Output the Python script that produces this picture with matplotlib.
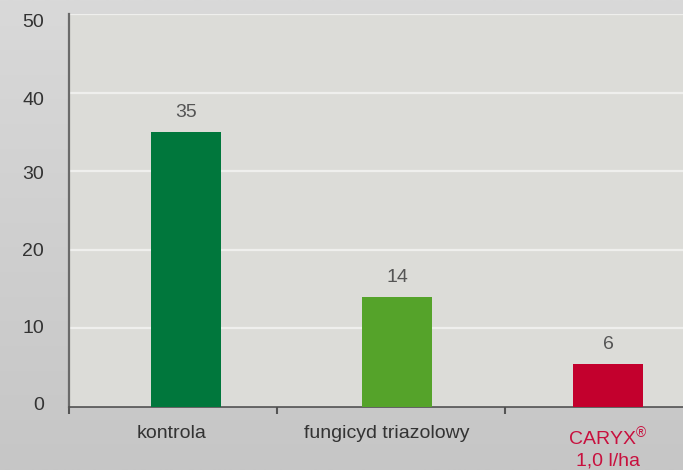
import numpy as np
import matplotlib
matplotlib.use('Agg')
import matplotlib.pyplot as plt
import matplotlib.transforms as mtransforms

# data
categories = ['kontrola', 'fungicyd triazolowy', 'CARYX$^{®}$\n1,0 l/ha']
values = [35, 14, 5.5]
value_labels = ['35', '14', '6']
bar_colors = ['#00773c', '#55a32a', '#c3002d']
y_ticks = [0, 10, 20, 30, 40, 50]

plt.rcParams['font.family'] = ['Liberation Sans', 'DejaVu Sans']
plt.rcParams['mathtext.fontset'] = 'custom'
plt.rcParams['mathtext.rm'] = 'Liberation Sans'
plt.rcParams['mathtext.default'] = 'regular'

W, H = 683, 470
fig = plt.figure(figsize=(W / 100, H / 100), dpi=100)

# grey gradient background of the whole figure
bg = fig.add_axes([0, 0, 1, 1], zorder=-10)
grad = np.linspace(0, 1, 256).reshape(-1, 1)
top_c = np.array([0xd9, 0xd9, 0xd9]) / 255
bot_c = np.array([0xc6, 0xc6, 0xc6]) / 255
img = top_c[None, None, :] * (1 - grad[:, :, None]) + bot_c[None, None, :] * grad[:, :, None]
bg.imshow(img, aspect='auto', extent=[0, 1, 0, 1])
bg.set_axis_off()

# plot area in pixel geometry of the reference
left, right, bottom, top = 69, 683, 407, 14
ax = fig.add_axes([left / W, (H - bottom) / H, (right - left) / W, (bottom - top) / H])
ax.set_facecolor('#dcdcd8')

x = np.arange(len(categories))
ax.bar(x, values, width=0.332, color=bar_colors, zorder=3)

for xi, v, lab in zip(x, values, value_labels):
    ax.annotate(lab, (xi, v), xytext=(0, 14), textcoords='offset points',
                ha='center', va='center', fontsize=14, color='#555555')

ax.set_xlim(-0.557, 2.356)
ax.set_ylim(0, 50)

ax.set_yticks(y_ticks)
ax.set_yticklabels([str(t) for t in y_ticks])
ax.tick_params(axis='y', length=0, pad=18, labelsize=14, labelcolor='#333333')
# the labels in the original sit slightly off their gridlines
shift_px = [3, 2, 0, -1, -6, -7]
for lbl, d in zip(ax.get_yticklabels(), shift_px):
    lbl.set_transform(lbl.get_transform() + mtransforms.ScaledTranslation(0, d / 100, fig.dpi_scale_trans))
ax.yaxis.grid(True, color='#efefed', linewidth=1.6, zorder=0)
ax.set_axisbelow(True)

# category labels as major ticks, boundary ticks as minor ticks
ax.set_xticks(x - np.array([0.07, 0.05, 0.0]))
ax.set_xticklabels(categories)
ax.tick_params(axis='x', which='major', length=0, pad=13, labelsize=14, labelcolor='#333333')
ax.set_xticks([-0.557, 0.43, 1.51], minor=True)
ax.tick_params(axis='x', which='minor', length=5, width=1.5, color='#555555', direction='out')
ax.get_xticklabels()[2].set_color('#c8103e')
for lbl in ax.get_xticklabels():
    lbl.set_multialignment('center')
    lbl.set_linespacing(1.25)

for s in ['top', 'right']:
    ax.spines[s].set_visible(False)
ax.spines['left'].set_color('#6a6a6a')
ax.spines['left'].set_linewidth(1.6)
ax.spines['bottom'].set_color('#505050')
ax.spines['bottom'].set_linewidth(1.2)

fig.savefig('out.png', dpi=100)
